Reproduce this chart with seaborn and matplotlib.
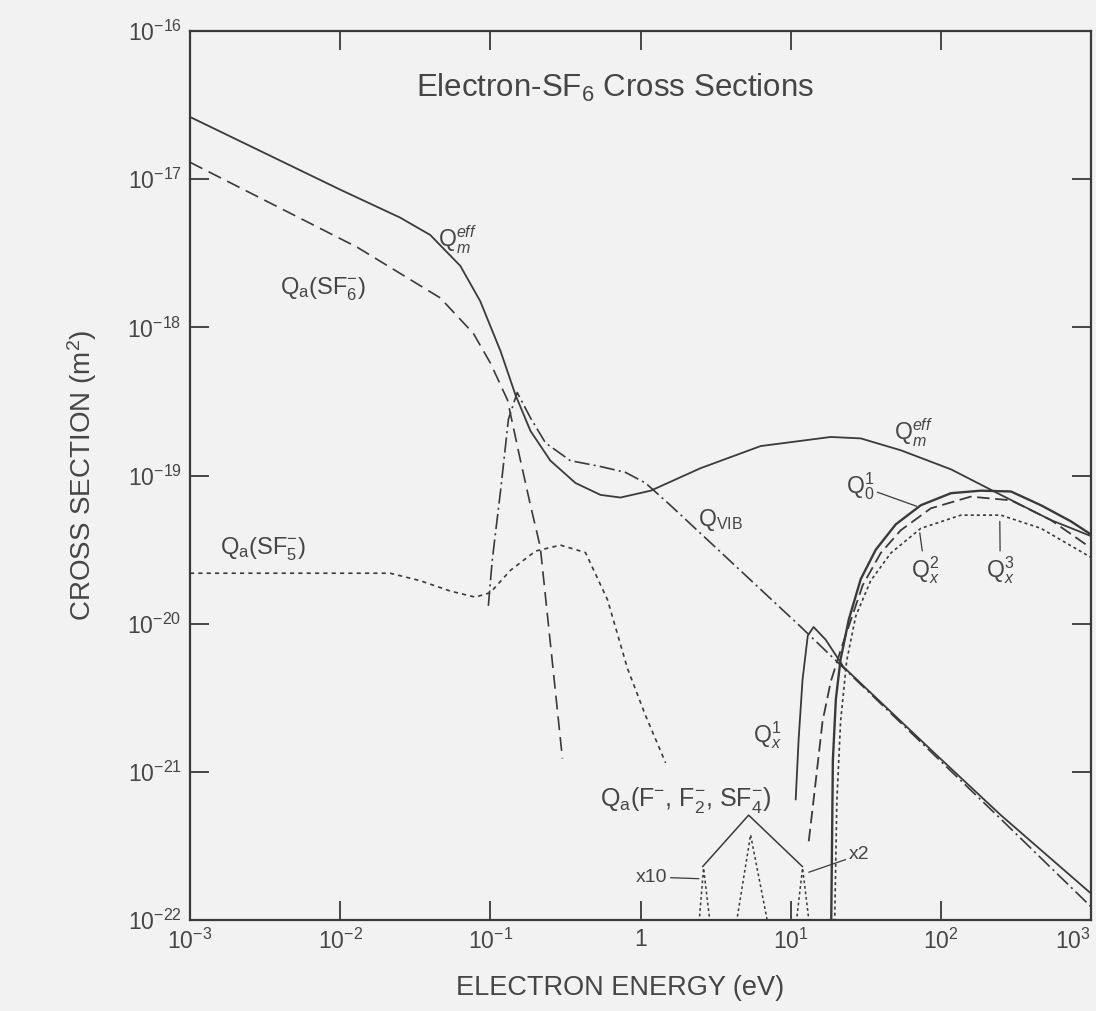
import matplotlib
matplotlib.use("Agg")
import matplotlib.pyplot as plt
import matplotlib.ticker as mticker
import seaborn as sns

# ---------------- data ----------------
# Q_m^eff (effective momentum-transfer cross section), solid
qm_E = [0.001, 0.01, 0.0251, 0.0398, 0.0631, 0.0857, 0.117, 0.147, 0.185, 0.251,
        0.369, 0.541, 0.736, 1.17, 2.51, 6.31, 18.5, 29.3, 54.1, 117, 251, 541, 1000]
qm_Q = [2.63e-17, 8.5e-18, 5.5e-18, 4.2e-18, 2.6e-18, 1.5e-18, 6.9e-19, 3.5e-19, 2.0e-19,
        1.26e-19, 8.9e-20, 7.4e-20, 7.1e-20, 7.9e-20, 1.12e-19, 1.58e-19, 1.82e-19,
        1.78e-19, 1.48e-19, 1.10e-19, 7.4e-20, 5.0e-20, 3.9e-20]

# Q_vib, dash-dot
qvib_E = [0.097, 0.103, 0.117, 0.132, 0.151, 0.185, 0.233, 0.341, 0.541, 0.794, 1.08,
          1.58, 2.51, 11.7, 54.1, 251, 1000]
qvib_Q = [1.32e-20, 2.69e-20, 7.9e-20, 2.4e-19, 3.63e-19, 2.45e-19, 1.66e-19, 1.26e-19,
          1.15e-19, 1.05e-19, 8.9e-20, 6.3e-20, 4.07e-20, 9.5e-21, 2.14e-21, 4.8e-22, 1.23e-22]

# Q_a(SF6-), dashed
qsf6_E = [0.001, 0.013, 0.0464, 0.0771, 0.1, 0.13, 0.158, 0.185, 0.215, 0.251, 0.302]
qsf6_Q = [1.3e-17, 3.47e-18, 1.58e-18, 9.1e-19, 5.75e-19, 3.24e-19, 1.29e-19, 6.3e-20,
          3.3e-20, 7.4e-21, 1.23e-21]

# Q_a(SF5-), short dashes
qsf5_E = [0.001, 0.0215, 0.0341, 0.0541, 0.0794, 0.1, 0.136, 0.2, 0.293, 0.43, 0.603,
          0.818, 1.08, 1.47]
qsf5_Q = [2.19e-20, 2.19e-20, 1.95e-20, 1.66e-20, 1.51e-20, 1.62e-20, 2.29e-20, 3.09e-20,
          3.39e-20, 3.02e-20, 1.45e-20, 5.0e-21, 2.4e-21, 1.15e-21]

# Q_x^1, solid
qx1_E = [10.8, 11.3, 12.0, 13.0, 14.2, 17.1, 22.5, 89.8, 251, 1000]
qx1_Q = [6.5e-22, 1.66e-21, 4.2e-21, 8.3e-21, 9.5e-21, 7.8e-21, 5.1e-21, 1.35e-21,
         5.1e-22, 1.51e-22]

# Q_0^1 (ionization), solid
q01_E = [18.5, 19.1, 20.0, 21.5, 24.4, 29.3, 36.9, 50.1, 73.6, 117, 185, 293, 464, 736, 1000]
q01_Q = [5e-23, 1.2e-21, 3.1e-21, 5.75e-21, 1.07e-20, 2.0e-20, 3.16e-20, 4.68e-20, 6.3e-20,
         7.6e-20, 7.9e-20, 7.8e-20, 6.3e-20, 4.9e-20, 4.0e-20]

# Q_x^2, long dashes
qx2_E = [13.2, 14.7, 16.3, 18.5, 21.5, 25.1, 30.2, 39.8, 54.1, 85.7, 158, 293, 541, 1000]
qx2_Q = [3.4e-22, 8.7e-22, 2.19e-21, 4.07e-21, 6.6e-21, 1.05e-20, 1.82e-20, 3.0e-20,
         4.27e-20, 6.0e-20, 7.2e-20, 6.8e-20, 5.0e-20, 3.24e-20]

# Q_x^3, dotted
qx3_E = [19.4, 20.3, 21.5, 23.6, 27.1, 34.1, 46.5, 73.6, 136, 251, 464, 1000]
qx3_Q = [5e-23, 6.3e-22, 2.19e-21, 5.6e-21, 1.12e-20, 1.95e-20, 3.0e-20, 4.4e-20,
         5.4e-20, 5.4e-20, 4.4e-20, 2.8e-20]

# Q_a(F-, F2-, SF4-): narrow resonance peaks (dotted) and scaled envelope (solid)
resA_E = [2.44, 2.63, 2.93]
resA_Q = [8.9e-23, 2.24e-22, 8.9e-23]
resB_E = [4.30, 5.41, 7.13]
resB_Q = [8.9e-23, 3.76e-22, 8.9e-23]
resC_E = [10.8, 12.0, 13.4]
resC_Q = [8.9e-23, 2.24e-22, 8.9e-23]
env_E = [2.59, 5.25, 12.0]
env_Q = [2.29e-22, 5.1e-22, 2.29e-22]

x_ticks = [1e-3, 1e-2, 1e-1, 1, 1e1, 1e2, 1e3]
x_tick_labels = [r"$\mathregular{10^{-3}}$", r"$\mathregular{10^{-2}}$",
                 r"$\mathregular{10^{-1}}$", "1", r"$\mathregular{10^{1}}$",
                 r"$\mathregular{10^{2}}$", r"$\mathregular{10^{3}}$"]
y_ticks = [1e-22, 1e-21, 1e-20, 1e-19, 1e-18, 1e-17, 1e-16]
y_tick_labels = [r"$\mathregular{10^{-22}}$", r"$\mathregular{10^{-21}}$",
                 r"$\mathregular{10^{-20}}$", r"$\mathregular{10^{-19}}$",
                 r"$\mathregular{10^{-18}}$", r"$\mathregular{10^{-17}}$",
                 r"$\mathregular{10^{-16}}$"]

# ---------------- style ----------------
BG = "#f2f2f3"
INK = "#3a3a3a"
TXT = "#454545"

sns.set_theme(style="ticks")
plt.rcParams.update({
    "font.family": ["Liberation Sans", "DejaVu Sans"],
    "mathtext.fontset": "custom",
    "mathtext.rm": "Liberation Sans",
    "mathtext.it": "Liberation Sans:italic",
    "mathtext.bf": "Liberation Sans:bold",
    "lines.scale_dashes": False,
    "text.color": TXT,
    "axes.labelcolor": TXT,
})

fig = plt.figure(figsize=(10.96, 10.11), dpi=100)
fig.patch.set_facecolor(BG)
ax = fig.add_axes([190 / 1096, 1 - 920 / 1011, 901 / 1096, 889 / 1011])
ax.set_facecolor(BG)
ax.set_xscale("log")
ax.set_yscale("log")

curves = [
    (qm_E, qm_Q, "-", 1.3),
    (qvib_E, qvib_Q, (0, (11, 3, 1.5, 3)), 1.2),
    (qsf6_E, qsf6_Q, (0, (10, 5)), 1.2),
    (qsf5_E, qsf5_Q, (0, (3, 3)), 1.2),
    (qx1_E, qx1_Q, "-", 1.3),
    (q01_E, q01_Q, "-", 1.7),
    (qx2_E, qx2_Q, (0, (9, 4)), 1.3),
    (qx3_E, qx3_Q, (0, (2.2, 2.2)), 1.2),
    (resA_E, resA_Q, (0, (2, 2)), 1.1),
    (resB_E, resB_Q, (0, (2, 2)), 1.1),
    (resC_E, resC_Q, (0, (2, 2)), 1.1),
    (env_E, env_Q, "-", 1.1),
]
for xs, ys, ls, lw in curves:
    sns.lineplot(x=xs, y=ys, ax=ax, color=INK, linestyle=ls, linewidth=lw,
                 sort=False, estimator=None)

ax.set_xlim(1e-3, 1e3)
ax.set_ylim(1e-22, 1e-16)
ax.xaxis.set_major_locator(mticker.FixedLocator(x_ticks))
ax.xaxis.set_major_formatter(mticker.FixedFormatter(x_tick_labels))
ax.yaxis.set_major_locator(mticker.FixedLocator(y_ticks))
ax.yaxis.set_major_formatter(mticker.FixedFormatter(y_tick_labels))
ax.xaxis.set_minor_locator(mticker.NullLocator())
ax.yaxis.set_minor_locator(mticker.NullLocator())
ax.tick_params(which="major", direction="in", length=14, width=1.3, top=True,
               right=True, labelsize=16.5, color=INK, labelcolor=TXT)
ax.tick_params(axis="x", pad=6)
ax.tick_params(axis="y", pad=6)
for s in ax.spines.values():
    s.set_linewidth(1.6)
    s.set_color(INK)

# keep the last x tick label inside the canvas (it sits at the right border)
fig.canvas.draw()
ax.get_xticklabels()[-1].set_horizontalalignment("right")

ax.set_xlabel("ELECTRON ENERGY (eV)", fontsize=19.5)
ax.set_ylabel("CROSS SECTION (m$^2$)", fontsize=20)
ax.xaxis.set_label_coords(0.477, -0.062)
ax.yaxis.set_label_coords(-0.101, 0.5)

# ---------------- annotations ----------------
ax.text(0.4717, 0.936, "Electron-SF$_6$ Cross Sections", transform=ax.transAxes,
        ha="center", va="center", fontsize=22.5)
fs = 16.5
ax.text(0.045, 3.9e-18, r"Q$_m^{eff}$", fontsize=fs, ha="left", va="center")
ax.text(0.004, 1.8e-18, r"Q$_\mathregular{a}$(SF$_6^{-}$)", fontsize=17, ha="left", va="center")
ax.text(48.6, 1.95e-19, r"Q$_m^{eff}$", fontsize=fs, ha="left", va="center")
ax.text(2.4, 5.0e-20, r"Q$_\mathregular{VIB}$", fontsize=fs, ha="left", va="center")
ax.text(0.00158, 3.16e-20, r"Q$_\mathregular{a}$(SF$_5^{-}$)", fontsize=17, ha="left", va="center")
ax.text(5.6, 1.78e-21, r"Q$_x^1$", fontsize=fs, ha="left", va="center")
ax.text(0.54, 6.5e-22, r"Q$_\mathregular{a}$(F$^{-}$, F$_2^{-}$, SF$_4^{-}$)", fontsize=18,
        ha="left", va="center")

arrow = dict(arrowstyle="-", lw=0.9, color=INK, shrinkA=0, shrinkB=0)
ax.annotate(r"Q$_0^1$", xy=(69, 6.2e-20), xytext=(23.3, 8.5e-20), fontsize=fs,
            ha="left", va="center", arrowprops=arrow)
ax.annotate(r"Q$_x^2$", xy=(72.4, 4.1e-20), xytext=(63, 2.3e-20), fontsize=fs,
            ha="left", va="center", arrowprops=arrow)
ax.annotate(r"Q$_x^3$", xy=(247, 4.9e-20), xytext=(200, 2.3e-20), fontsize=fs,
            ha="left", va="center", arrowprops=arrow)
ax.annotate("x10", xy=(2.45, 1.9e-22), xytext=(0.93, 1.95e-22), fontsize=14,
            ha="left", va="center", arrowprops=arrow)
ax.annotate("x2", xy=(13.2, 2.1e-22), xytext=(24.4, 2.75e-22), fontsize=14,
            ha="left", va="center", arrowprops=arrow)

fig.savefig("out.png", dpi=100, facecolor=BG)
